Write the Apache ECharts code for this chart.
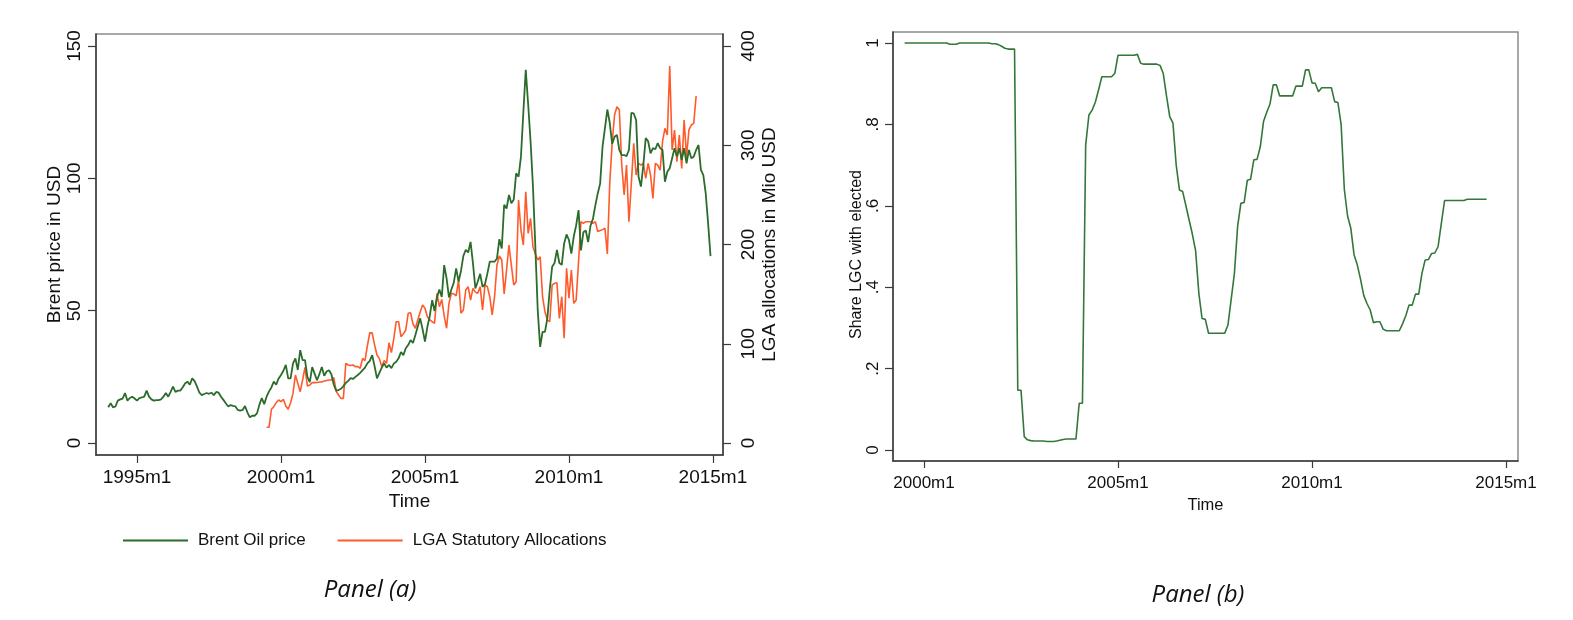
<!DOCTYPE html>
<html><head><meta charset="utf-8">
<script src="https://cdn.jsdelivr.net/npm/echarts@6/dist/echarts.min.js"></script>
<style>html,body{margin:0;padding:0;background:#fff}#c{width:1573px;height:620px}</style>
</head><body><div id="c"></div>
<script>
// Months are Stata %tm indices (1960m1 = 0)
const brentStart = 408; // 1994m1
const brent = [
 13.5,15,13.5,13.8,16,16.5,16.8,18.9,16,17,17.5,16.8,
 16,17,17.2,17.5,19.8,17.5,16.5,16,16.2,16.2,16.5,17.5,
 18.9,17.5,19.3,21.3,19.3,19.8,19.8,21,22.5,23.2,22,24.4,
 23.4,21.3,19,18.1,18.5,18.9,18.6,19,18.1,19.3,19,17.5,
 16.3,15,13.8,14.3,14,13.8,12.5,12.2,12.5,14,11.6,9.7,
 10.3,10.3,11.2,14.5,17,14.7,17.5,19.5,21,23.2,22,24.4,
 25.7,27.3,29.5,24.4,24.4,30.1,32,27.6,35.1,31.3,31.3,25,
 23,28.7,26.2,23.7,26,28.7,25.4,27,27.5,26,22,19.8,
 20,20.5,21.5,22.7,23.5,24.5,24.2,25,25.7,26.5,27.5,28.5,
 30.1,31,33.2,29,24.4,26.5,28.5,30.1,28.5,29.5,28.3,30,
 30.7,32,34.4,33.2,35.8,37,38.9,37.8,40.8,44,47.1,43,
 38.3,43.9,48,54,49.9,55,58,55.2,67.2,62.2,55,58,
 60.6,66,61,65,70.7,73,72,76,67.9,58.4,61,63.9,
 59,60,64,68.5,68.5,68.5,69.7,77,73.5,90,88.6,93.7,
 90.6,92,101.9,100.6,108.2,125,141,128,114,97,74,50,
 36.3,42,42,47.1,58,66.6,68,73,68,67.3,75.4,78.8,
 76.7,71.6,78,82.2,88,72.8,79.6,80.3,75.9,82.2,84.7,89.8,
 94.3,98,112,119,126,121,113,115.7,116.4,110.7,108.8,108.8,
 108.4,110.7,124.7,124.5,122,100.6,96.9,105,115.2,114,109.4,111.4,
 111,113.3,111.4,110.7,98.7,102.5,103.8,107.6,111.4,108.2,111.4,107,
 111.4,105.7,110.7,107.6,108.2,110.7,112.6,103.2,101.2,94.3,83,70.6
];
const lgaStart = 474; // 1999m7
const lga = [
 15.8,15.8,34,36.6,40.6,43.3,
 41.6,44,37.3,34,40.6,50,68.5,60.1,51.7,63.5,76.3,57.4,
 58.4,60.8,60.8,61,61.5,61.5,62.5,63,63.5,63.5,65.8,52,
 48.4,45,45,80.3,78.6,78,78.6,77,77,75.3,85.3,83,
 98,111.1,111,98.7,88.7,85,76.9,83,80.3,101,91,105,
 122.2,122.2,107.1,110,113.9,130.7,131.3,120,115.6,123.9,132,139,
 135.7,127.3,124,122.2,120.6,150.8,137.3,144.7,128,115.6,140.7,150.8,
 150.2,148.2,164.2,130.7,134,154.1,157.5,144,155.8,152,150.8,157.5,
 134,159.2,157.5,147.4,129,147.4,179.3,188.4,184.4,150.2,174.3,199.5,
 179.3,159.2,162.5,244.8,214.6,199.5,253.2,211.3,226.4,197.8,190.4,184.4,
 187.7,147.4,132.3,123.9,122.2,159.2,160.9,161.5,125.6,147.4,105.5,176,
 145.8,174.3,140.7,144,182.7,223,221.3,223,223,223,221.3,223,
 213,214,215,216.3,190.4,261.6,301.9,330.5,338.8,335.5,280,249.9,
 280,223,261.6,301.9,270,281.8,280,281.8,266.7,281.8,270,246.5,
 281.8,280,275,303.6,317,310.3,379.8,295.2,315.4,283.4,310.3,276.7,
 325.4,288.5,315.4,320.4,322,349.6
];
const shareStart = 474; // 1999m7
const share = [
 1,1,1,1,1,1,
 1,1,1,1,1,1,1,1,0.997,0.997,0.997,1,
 1,1,1,1,1,1,1,1,1,0.998,0.998,0.996,
 0.992,0.987,0.985,0.985,0.985,0.147,0.147,0.033,0.025,0.023,0.022,0.022,
 0.022,0.022,0.021,0.021,0.021,0.022,0.024,0.026,0.027,0.027,0.027,0.027,
 0.115,0.115,0.749,0.823,0.835,0.855,0.885,0.917,0.917,0.917,0.917,0.925,
 0.970,0.970,0.970,0.970,0.970,0.970,0.972,0.95,0.948,0.948,0.948,0.948,
 0.948,0.945,0.925,0.87,0.819,0.803,0.70,0.639,0.635,0.60,0.565,0.53,
 0.49,0.385,0.323,0.321,0.287,0.287,0.287,0.287,0.287,0.287,0.307,0.37,
 0.434,0.55,0.606,0.608,0.663,0.665,0.713,0.714,0.745,0.807,0.83,0.85,
 0.897,0.897,0.870,0.870,0.870,0.870,0.870,0.894,0.894,0.894,0.934,0.934,
 0.902,0.901,0.880,0.890,0.890,0.890,0.890,0.856,0.854,0.80,0.64,0.575,
 0.545,0.48,0.455,0.42,0.38,0.36,0.344,0.313,0.315,0.315,0.297,0.293,
 0.293,0.293,0.293,0.293,0.31,0.33,0.356,0.356,0.383,0.383,0.434,0.467,
 0.468,0.483,0.484,0.50,0.557,0.613,0.613,0.613,0.613,0.613,0.613,0.613,
 0.616,0.616,0.616,0.616,0.616,0.616,0.616
];
const timeTicks = [420, 480, 540, 600, 660];
const brentTicks = [0, 50, 100, 150];
const lgaTicks = [0, 100, 200, 300, 400];
const shareTicks = [0, 0.2, 0.4, 0.6, 0.8, 1];
const seriesNames = ['Brent Oil price', 'LGA Statutory Allocations'];

const toPairs = (start, arr) => arr.map((v, i) => [start + i, v]);
const monthLabel = v => { const y = Math.floor(v / 12) + 1960; const mo = Math.round(v - (y - 1960) * 12) + 1; return y + 'm' + mo; };
const shareLabel = v => v === 0 ? '0' : (v === 1 ? '1' : '.' + Math.round(v * 10));

const FONT = '"Liberation Sans", Arial, Helvetica, sans-serif';
const GREEN = '#2b6c2b', ORANGE = '#ff5a2a', AX = '#3a3a3a', TXT = '#111';
const lineAx = { show: true, onZero: false, lineStyle: { color: AX, width: 1.5 } };
const lbl = (fs, extra) => Object.assign({ fontSize: fs, color: TXT, fontFamily: FONT }, extra);
const nameA = { fontSize: 19, color: TXT, fontFamily: FONT };

const chart = echarts.init(document.getElementById('c'), null, { renderer: 'canvas' });
chart.setOption({
  animation: false,
  backgroundColor: '#fff',
  grid: [
    { left: 96, top: 34, width: 627, height: 421, show: true, borderColor: '#8c8c8c', borderWidth: 1.5 },
    { left: 893, top: 32, width: 625, height: 429, show: true, borderColor: '#8c8c8c', borderWidth: 1.5 }
  ],
  xAxis: [
    { type: 'value', gridIndex: 0, min: 402.9, max: 664.2, axisLine: lineAx,
      axisTick: { show: true, length: 8, customValues: timeTicks, lineStyle: { color: AX, width: 1.2 } },
      axisLabel: lbl(19, { customValues: timeTicks, formatter: monthLabel, margin: 13 }),
      splitLine: { show: false }, name: 'Time', nameLocation: 'middle', nameGap: 36, nameTextStyle: nameA },
    { type: 'value', gridIndex: 1, min: 470.41, max: 663.71, axisLine: lineAx,
      axisTick: { show: true, length: 7, customValues: timeTicks, lineStyle: { color: AX, width: 1.2 } },
      axisLabel: lbl(17, { customValues: timeTicks, formatter: monthLabel, margin: 14 }),
      splitLine: { show: false }, name: 'Time', nameLocation: 'middle', nameGap: 33,
      nameTextStyle: { fontSize: 16.5, color: TXT, fontFamily: FONT } }
  ],
  yAxis: [
    { type: 'value', gridIndex: 0, position: 'left', min: -4.53, max: 154.53, axisLine: lineAx,
      axisTick: { show: true, length: 8, customValues: brentTicks, lineStyle: { color: AX, width: 1.2 } },
      axisLabel: lbl(19, { customValues: brentTicks, rotate: 90, margin: 12 }),
      splitLine: { show: false }, name: 'Brent price in USD', nameLocation: 'middle', nameGap: 32, nameTextStyle: nameA },
    { type: 'value', gridIndex: 0, position: 'right', min: -12.09, max: 412.1, axisLine: lineAx,
      axisTick: { show: true, length: 8, customValues: lgaTicks, lineStyle: { color: AX, width: 1.2 } },
      axisLabel: lbl(19, { customValues: lgaTicks, rotate: 90, margin: 16 }),
      splitLine: { show: false }, name: 'LGA allocations in Mio USD', nameLocation: 'middle', nameGap: 37, nameTextStyle: nameA },
    { type: 'value', gridIndex: 1, position: 'left', min: -0.027, max: 1.027, axisLine: lineAx,
      axisTick: { show: true, length: 8, customValues: shareTicks, lineStyle: { color: AX, width: 1.2 } },
      axisLabel: lbl(17, { customValues: shareTicks, rotate: 90, margin: 11, formatter: shareLabel }),
      splitLine: { show: false }, name: 'Share LGC with elected', nameLocation: 'middle', nameGap: 27,
      nameTextStyle: { fontSize: 16, color: TXT, fontFamily: FONT, padding: [0, 16, 0, 0] } }
  ],
  legend: {
    left: 123, top: 532, padding: 0, itemWidth: 65, itemHeight: 2, itemGap: 32, icon: 'rect',
    data: seriesNames, textStyle: { fontSize: 17, color: TXT, fontFamily: FONT, padding: [0, 0, 0, 5] }
  },
  series: [
    { name: seriesNames[0], type: 'line', xAxisIndex: 0, yAxisIndex: 0, data: toPairs(brentStart, brent),
      showSymbol: false, color: GREEN, lineStyle: { color: GREEN, width: 1.8 }, z: 3 },
    { name: seriesNames[1], type: 'line', xAxisIndex: 0, yAxisIndex: 1, data: toPairs(lgaStart, lga),
      showSymbol: false, color: ORANGE, lineStyle: { color: ORANGE, width: 1.6 }, z: 2 },
    { name: 'Share', type: 'line', xAxisIndex: 1, yAxisIndex: 2, data: toPairs(shareStart, share),
      showSymbol: false, color: '#33783a', lineStyle: { color: '#33783a', width: 1.6 } }
  ],
  graphic: [
    { type: 'text', x: 370, y: 590, style: { text: 'Panel (a)', fontSize: 24, fontStyle: 'italic', fontFamily: '"Open Sans", Lato, sans-serif', fill: TXT, align: 'center', verticalAlign: 'middle' } },
    { type: 'text', x: 1198, y: 595, style: { text: 'Panel (b)', fontSize: 24, fontStyle: 'italic', fontFamily: '"Open Sans", Lato, sans-serif', fill: TXT, align: 'center', verticalAlign: 'middle' } }
  ]
});
</script></body></html>
